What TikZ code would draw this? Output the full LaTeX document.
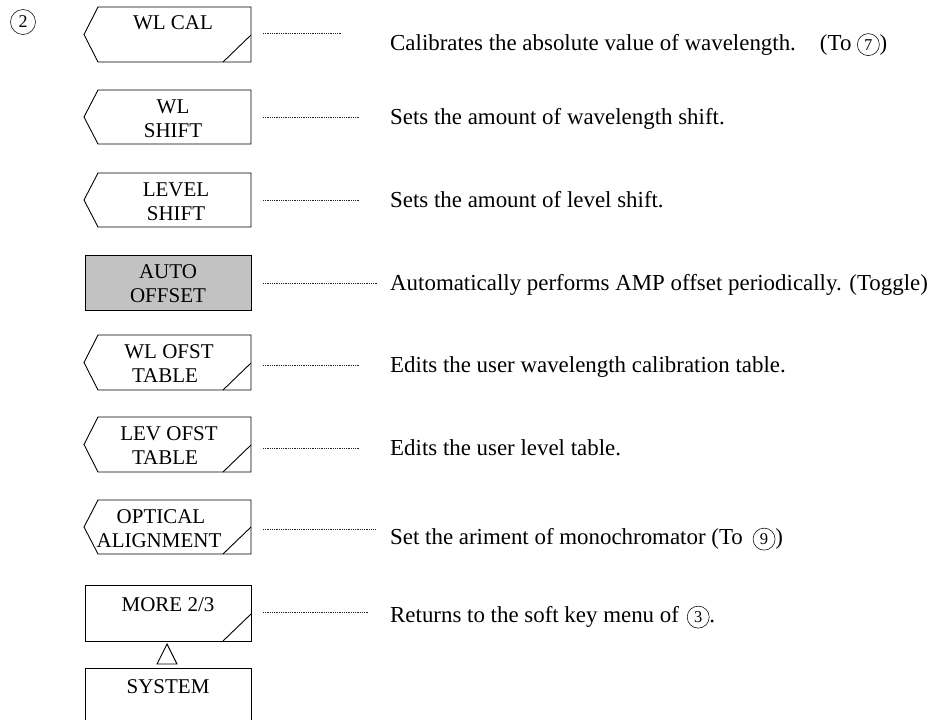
\documentclass[tikz,border=0pt]{standalone}
\usepackage{fontspec}
\setmainfont{Liberation Serif}
\newcommand\cdig[1]{\tikz[baseline=(cc.base), x=1pt, y=1pt]\node[circle, draw, line width=0.55pt, minimum size=22pt, inner sep=0pt, font=\fontsize{16.5}{16.5}\selectfont] (cc) {#1};}
\newcommand\notchkey[2]{\draw[keyline] (98,#1) -- (251,#1) -- (251,#2) -- (98,#2) -- (84,{(#1+#2)/2}) -- cycle;}
\newcommand\rectkey[2]{\draw[keyline] (85,#1) rectangle (251,#2);}
\newcommand\slashmark[1]{\draw[keyline] (223,#1) -- (251,{#1-27});}
\begin{document}
\begin{tikzpicture}[x=1pt,y=-1pt,
  keyline/.style={line width=0.9pt, line join=miter},
  leader/.style={densely dotted, line width=0.8pt, black!85},
  keytext/.style={font=\fontsize{21}{24}\selectfont, anchor=base, inner sep=0pt},
  desc/.style={font=\fontsize{22.9}{26}\selectfont, anchor=base west, inner sep=0pt}]
\useasboundingbox (0,0) rectangle (938,720);
\clip (0,0) rectangle (938,720);

% section number
\node[circle, draw, line width=0.55pt, minimum size=25pt, inner sep=0pt, font=\fontsize{18}{18}\selectfont] (sec) at (23,22) {2};

% 1 WL CAL
\notchkey{7}{62}\slashmark{62}
\node[keytext] (k1a) at (173,30) {WL CAL};
\coordinate (l1s) at (263,33); \coordinate (l1e) at (341,33);
\draw[leader] (l1s) -- (l1e);
\node[desc] (d1) at (390,50) {Calibrates the absolute value of wavelength.\hspace*{24pt}(To \cdig{7})};

% 2 WL SHIFT
\notchkey{90}{144}
\node[keytext] (k2a) at (173,113) {WL};
\node[keytext] (k2b) at (173,137) {SHIFT};
\coordinate (l2s) at (263,117); \coordinate (l2e) at (359,117);
\draw[leader] (l2s) -- (l2e);
\node[desc] (d2) at (390,124.5) {Sets the amount of wavelength shift.};

% 3 LEVEL SHIFT
\notchkey{173}{227}
\node[keytext] (k3a) at (176,196) {LEVEL};
\node[keytext] (k3b) at (176,220) {SHIFT};
\coordinate (l3s) at (263,200); \coordinate (l3e) at (359,200);
\draw[leader] (l3s) -- (l3e);
\node[desc] (d3) at (390,207.5) {Sets the amount of level shift.};

% 4 AUTO OFFSET
\filldraw[keyline, fill=black!24] (85,255) rectangle (251,310);
\node[keytext] (k4a) at (168,278) {AUTO};
\node[keytext] (k4b) at (168,302) {OFFSET};
\coordinate (l4s) at (263,283); \coordinate (l4e) at (377,283);
\draw[leader] (l4s) -- (l4e);
\node[desc] (d4) at (390,290.5) {Automatically performs AMP offset periodically. (Toggle)};

% 5 WL OFST TABLE
\notchkey{335}{390}\slashmark{390}
\node[keytext] (k5a) at (169,358) {WL OFST};
\node[keytext] (k5b) at (165,382) {TABLE};
\coordinate (l5s) at (263,365); \coordinate (l5e) at (359,365);
\draw[leader] (l5s) -- (l5e);
\node[desc] (d5) at (390,372.5) {Edits the user wavelength calibration table.};

% 6 LEV OFST TABLE
\notchkey{417}{472}\slashmark{472}
\node[keytext] (k6a) at (169,440) {LEV OFST};
\node[keytext] (k6b) at (165,464) {TABLE};
\coordinate (l6s) at (263,448); \coordinate (l6e) at (359,448);
\draw[leader] (l6s) -- (l6e);
\node[desc] (d6) at (390,455.5) {Edits the user level table.};

% 7 OPTICAL ALIGNMENT
\notchkey{500}{554}\slashmark{554}
\node[keytext] (k7a) at (161,523) {OPTICAL};
\node[keytext] (k7b) at (159,547) {ALIGNMENT};
\coordinate (l7s) at (263,529); \coordinate (l7e) at (375,529);
\draw[leader] (l7s) -- (l7e);
\node[desc] (d7) at (390,544.5) {Set the ariment of monochromator (To\hspace*{10pt}\cdig{9})};

% 8 MORE 2/3
\rectkey{585}{641}\slashmark{641}
\node[keytext] (k8a) at (168,611) {MORE 2/3};
\coordinate (l8s) at (263,612); \coordinate (l8e) at (369,612);
\draw[leader] (l8s) -- (l8e);
\node[desc] (d8) at (390,622.5) {Returns to the soft key menu of\hspace*{8pt}\cdig{3}.};

% triangle
\draw[line width=0.9pt] (157,664) -- (177,664) -- (167,644) -- cycle;
\coordinate (tri) at (167,654);

% 9 SYSTEM
\draw[keyline] (85,725) -- (85,668) -- (251,668) -- (251,725);
\node[keytext] (k9a) at (168,693) {SYSTEM};
\end{tikzpicture}
\end{document}
